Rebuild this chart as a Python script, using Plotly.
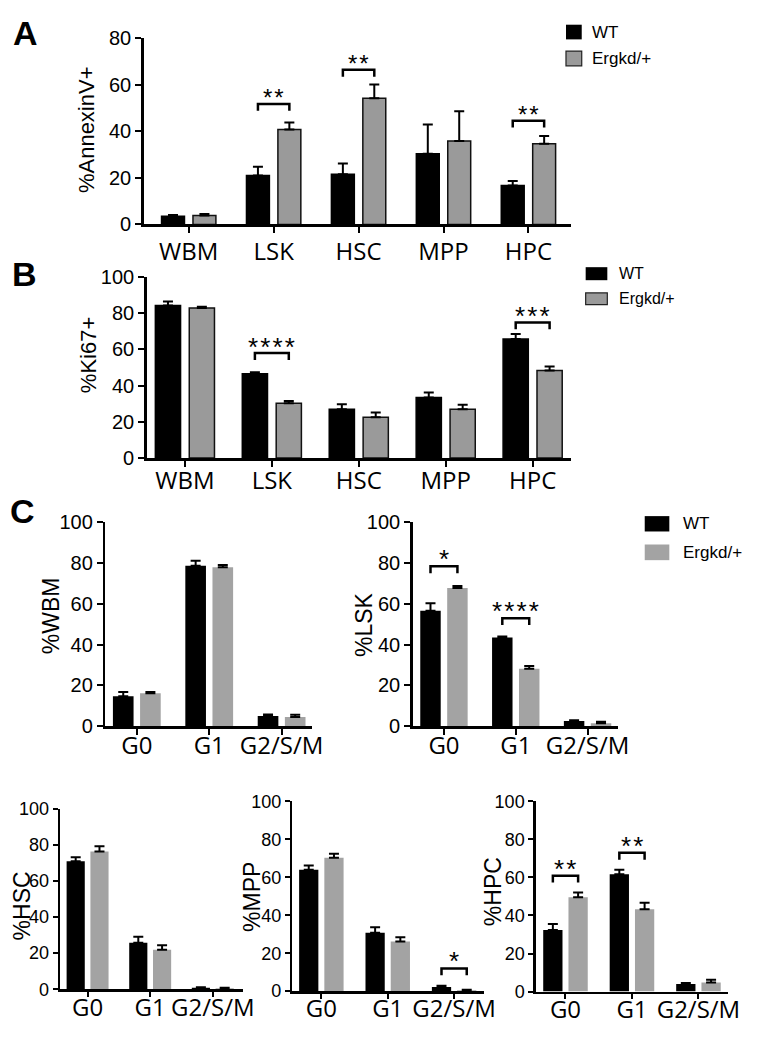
import plotly.graph_objects as go

W, H = 765, 1043

# ---------------- data ----------------
series_names = ["WT", "Ergkd/+"]

a_cats = ["WBM", "LSK", "HSC", "MPP", "HPC"]
a_wt = [3.5, 21.0, 21.6, 30.4, 16.7]
a_wt_err = [0.5, 3.8, 4.6, 12.6, 2.0]
a_kd = [3.8, 40.8, 54.3, 35.9, 34.7]
a_kd_err = [0.7, 3.0, 5.9, 12.8, 3.3]
a_sig = [("LSK", 51.8, 2), ("HSC", 66.5, 2), ("HPC", 44.6, 2)]

b_cats = ["WBM", "LSK", "HSC", "MPP", "HPC"]
b_wt = [84.3, 46.5, 26.9, 33.5, 65.8]
b_wt_err = [2.2, 0.9, 2.8, 2.7, 2.7]
b_kd = [82.9, 30.3, 22.5, 26.9, 48.3]
b_kd_err = [0.6, 1.2, 2.7, 2.5, 2.2]
b_sig = [("LSK", 58.0, 4), ("HPC", 74.9, 3)]

phases = ["G0", "G1", "G2/S/M"]

wbm_wt = [14.7, 78.7, 5.1]
wbm_wt_err = [2.1, 2.4, 0.7]
wbm_kd = [16.2, 77.9, 4.6]
wbm_kd_err = [0.6, 1.1, 1.0]
wbm_sig = []

lsk_wt = [56.6, 43.5, 2.6]
lsk_wt_err = [3.7, 0.5, 0.3]
lsk_kd = [67.8, 28.2, 1.5]
lsk_kd_err = [1.0, 1.3, 0.7]
lsk_sig = [("G0", 78.4, 1), ("G1", 53.0, 4)]

hsc_wt = [71.0, 25.8, 0.8]
hsc_wt_err = [2.2, 3.3, 0.3]
hsc_kd = [76.3, 21.9, 0.6]
hsc_kd_err = [2.9, 2.5, 0.2]
hsc_sig = []

mpp_wt = [63.9, 30.8, 2.2]
mpp_wt_err = [2.3, 2.8, 0.7]
mpp_kd = [70.2, 26.2, 0.5]
mpp_kd_err = [2.1, 2.2, 0.3]
mpp_sig = [("G2/S/M", 12.0, 1)]

hpc_wt = [32.3, 61.6, 4.0]
hpc_wt_err = [3.2, 2.4, 0.5]
hpc_kd = [49.6, 43.2, 4.8]
hpc_kd_err = [2.4, 3.5, 1.4]
hpc_sig = [("G0", 60.9, 2), ("G1", 72.9, 2)]

# ---------------- styling / layout ----------------
ARIAL = "Liberation Sans, Arial, sans-serif"
CATF = "Open Sans, sans-serif"
GRAY_AB = "#9a9a9a"
GRAY_C = "#a3a3a3"
STAR_SEP = "\u200a"


def px_x(x):
    return x / W


def px_y(y):
    return 1 - y / H


fig = go.Figure()
shapes = []
annotations = []


def add_panel(n, cats, wt, wt_err, kd, kd_err, sig, cfg):
    xr = "x" if n == 1 else f"x{n}"
    yr = "y" if n == 1 else f"y{n}"
    xkey = "xaxis" if n == 1 else f"xaxis{n}"
    ykey = "yaxis" if n == 1 else f"yaxis{n}"
    bw, gap = cfg["bw"], cfg["gap"]
    outline = cfg["outline"]
    gray = cfg["gray"]
    err_style = dict(type="data", symmetric=False, color="black",
                     thickness=2, width=cfg["capw"])
    fig.add_trace(go.Bar(
        x=cats, y=wt, name=series_names[0], xaxis=xr, yaxis=yr,
        width=bw, offset=-(gap / 2 + bw),
        marker=dict(color="black", line=dict(color="black", width=outline)),
        error_y=dict(array=wt_err, arrayminus=[0] * len(wt), **err_style),
        showlegend=False))
    fig.add_trace(go.Bar(
        x=cats, y=kd, name=series_names[1], xaxis=xr, yaxis=yr,
        width=bw, offset=gap / 2,
        marker=dict(color=gray, line=dict(color="#111111", width=outline)),
        error_y=dict(array=kd_err, arrayminus=[0] * len(kd), **err_style),
        showlegend=False))

    fig.update_layout(**{
        xkey: dict(
            domain=[px_x(cfg["x0"]), px_x(cfg["x1"])], anchor=yr,
            type="category", range=cfg["xrange"], showgrid=False,
            zeroline=False, showline=True, linecolor="black", linewidth=2.5,
            ticks="outside", ticklen=cfg["ticklen"], tickwidth=2,
            tickcolor="black", ticklabelstandoff=cfg["xstandoff"],
            tickfont=dict(family=CATF, size=cfg["catsize"], color="black"),
            fixedrange=True),
        ykey: dict(
            domain=[px_y(cfg["y0"]), px_y(cfg["ytop"])], anchor=xr,
            range=[0, cfg["ymax"]], dtick=20, showgrid=False,
            zeroline=False, showline=True, linecolor="black", linewidth=2.5,
            ticks="outside", ticklen=cfg["ticklen"], tickwidth=2,
            tickcolor="black",
            tickfont=dict(family=ARIAL, size=cfg["ticksize"], color="black"),
            fixedrange=True),
    })

    # y-axis title
    annotations.append(dict(
        text=cfg["ytitle"], xref="paper", yref="paper",
        x=px_x(cfg["tx"]), y=px_y(cfg["ty"]), textangle=-90,
        showarrow=False, xanchor="center", yanchor="middle",
        font=dict(family=ARIAL, size=cfg["titlesize"], color="black")))

    # significance brackets
    unit_px = (cfg["y0"] - cfg["ytop"]) / cfg["ymax"]
    leg = 7 / unit_px
    for cat, h, nstars in sig:
        i = cats.index(cat)
        xl = i - gap / 2 - bw / 2
        xrt = i + gap / 2 + bw / 2
        path = f"M {xl},{h - leg} L {xl},{h} L {xrt},{h} L {xrt},{h - leg}"
        shapes.append(dict(type="path", xref=xr, yref=yr, path=path,
                           line=dict(color="black", width=2.5)))
        annotations.append(dict(
            text=STAR_SEP.join(["*"] * nstars), xref=xr, yref=yr, x=i, y=h,
            showarrow=False, xanchor="center", yanchor="middle",
            yshift=cfg["staryshift"],
            font=dict(family=ARIAL, size=cfg["starsize"], color="black")))


base_ab = dict(bw=0.27, gap=0.10, outline=1.5, gray=GRAY_AB, capw=5,
               ticklen=6, catsize=24, ticksize=20, titlesize=22,
               starsize=24, staryshift=6, xstandoff=-2)
cfgA = dict(base_ab, x0=146, x1=580, y0=218, ytop=28, ymax=80,
            xrange=[-0.53, 4.5], ytitle="%AnnexinV+", tx=88, ty=121)
cfgB = dict(base_ab, bw=0.29, gap=0.10, starsize=26, xstandoff=-6,
            x0=149, x1=580, y0=456.7, ytop=271.7, ymax=100,
            xrange=[-0.44, 4.44], ytitle="%Ki67+", tx=90, ty=352)

base_c = dict(bw=0.285, gap=0.09, outline=0, gray=GRAY_C, capw=5,
              ticklen=6, catsize=24, ticksize=20, titlesize=23,
              starsize=26, staryshift=7, xstandoff=-10)
cfgWBM = dict(base_c, x0=107, x1=317, y0=730.7, ytop=522.3, ymax=100,
              xrange=[-0.435, 2.42], ytitle="%WBM", tx=52, ty=618)
cfgLSK = dict(base_c, x0=419.3, x1=628.3, y0=730.7, ytop=522.3, ymax=100,
              xrange=[-0.435, 2.43], ytitle="%LSK", tx=370, ty=627)
base_c2 = dict(base_c, bw=0.29, gap=0.09, ticklen=5, ticksize=18,
               catsize=24, titlesize=23, xstandoff=-10)
cfgHSC = dict(base_c2, x0=61, x1=246.7, y0=999.3, ytop=815, ymax=100,
              xrange=[-0.44, 2.48], ytitle="%HSC", tx=22, ty=914)
cfgMPP = dict(base_c2, x0=297, x1=491.7, y0=1001.3, ytop=807.3, ymax=100,
              xrange=[-0.437, 2.45], ytitle="%MPP", tx=256, ty=905)
cfgHPC = dict(base_c2, x0=544.3, x1=739.3, y0=1001.7, ytop=807.3, ymax=100,
              xrange=[-0.447, 2.44], ytitle="%HPC", tx=501, ty=900)

add_panel(1, a_cats, a_wt, a_wt_err, a_kd, a_kd_err, a_sig, cfgA)
add_panel(2, b_cats, b_wt, b_wt_err, b_kd, b_kd_err, b_sig, cfgB)
add_panel(3, phases, wbm_wt, wbm_wt_err, wbm_kd, wbm_kd_err, wbm_sig, cfgWBM)
add_panel(4, phases, lsk_wt, lsk_wt_err, lsk_kd, lsk_kd_err, lsk_sig, cfgLSK)
add_panel(5, phases, hsc_wt, hsc_wt_err, hsc_kd, hsc_kd_err, hsc_sig, cfgHSC)
add_panel(6, phases, mpp_wt, mpp_wt_err, mpp_kd, mpp_kd_err, mpp_sig, cfgMPP)
add_panel(7, phases, hpc_wt, hpc_wt_err, hpc_kd, hpc_kd_err, hpc_sig, cfgHPC)

# ---------------- legends (drawn keys) ----------------
legends = [
    dict(x0=575, x1=591, rows=[(14, 29), (41, 56)], tx=599, size=17,
         gray=GRAY_AB, outline=1.2),
    dict(x0=595, x1=617, rows=[(261.7, 275), (288, 300)], tx=626.7, size=16,
         gray=GRAY_AB, outline=1.2),
    dict(x0=655, x1=680, rows=[(516, 531.7), (545, 561)], tx=691.7, size=17,
         gray=GRAY_C, outline=0),
]
for lg in legends:
    for k, (t, b) in enumerate(lg["rows"]):
        fill = "black" if k == 0 else lg["gray"]
        lw = 0 if (k == 0 or lg["outline"] == 0) else lg["outline"]
        shapes.append(dict(type="rect", xref="paper", yref="paper",
                           x0=px_x(lg["x0"]), x1=px_x(lg["x1"]),
                           y0=px_y(b), y1=px_y(t), fillcolor=fill,
                           line=dict(color="#222222", width=lw)))
        annotations.append(dict(
            text=series_names[k], xref="paper", yref="paper",
            x=px_x(lg["tx"]), y=px_y((t + b) / 2), showarrow=False,
            xanchor="left", yanchor="middle",
            font=dict(family=ARIAL, size=lg["size"], color="black")))

# ---------------- panel letters ----------------
for letter, (lx, ly) in zip(["A", "B", "C"], [(25.5, 22.5), (25, 269), (23, 511)]):
    annotations.append(dict(
        text=f"<b>{letter}</b>", xref="paper", yref="paper",
        x=px_x(lx), y=px_y(ly), showarrow=False, xanchor="center",
        yanchor="middle", font=dict(family=ARIAL, size=34, color="black")))

fig.update_layout(
    width=W, height=H, margin=dict(l=0, r=0, t=0, b=0),
    paper_bgcolor="white", plot_bgcolor="white",
    barmode="overlay", showlegend=False,
    shapes=shapes, annotations=annotations,
)

fig.write_html(
    "out.html",
    config={"displayModeBar": False, "staticPlot": True},
    post_script="document.body.style.margin='0';"
                "document.body.style.overflow='hidden';",
)
